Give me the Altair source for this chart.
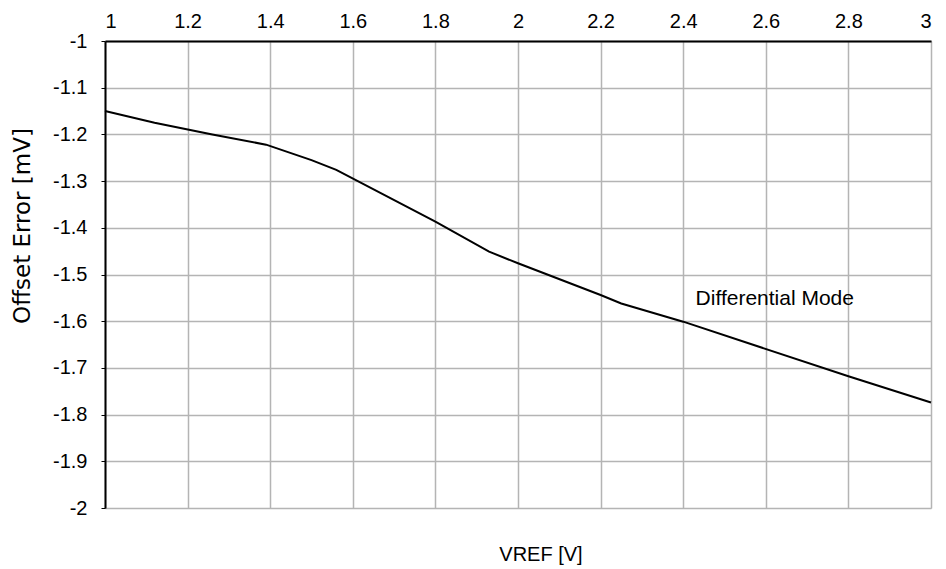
import altair as alt
import pandas as pd

vref = [1.0, 1.12, 1.26, 1.39, 1.5, 1.56, 1.8, 1.93, 2.0, 2.2, 2.25, 2.4, 2.8, 3.0]
offset = [-1.150, -1.175, -1.200, -1.222, -1.255, -1.276, -1.387, -1.451, -1.476,
          -1.544, -1.562, -1.601, -1.718, -1.774]
x_ticks = [1, 1.2, 1.4, 1.6, 1.8, 2, 2.2, 2.4, 2.6, 2.8, 3]
y_ticks = [-1, -1.1, -1.2, -1.3, -1.4, -1.5, -1.6, -1.7, -1.8, -1.9, -2]
annotation = "Differential Mode"
ann_x, ann_y = 2.43, -1.553
x_title = "VREF [V]"
y_title = "Offset Error [mV]"

df = pd.DataFrame({"vref": vref, "offset": offset})
FONT = "Liberation Sans, Arial"

W, H = 826, 467

xscale = alt.Scale(domain=[1, 3], nice=False, zero=False)
yscale = alt.Scale(domain=[-2, -1], nice=False, zero=False)

line = alt.Chart(df).mark_line(color="black", strokeWidth=2).encode(
    x=alt.X("vref:Q", scale=xscale,
            axis=alt.Axis(orient="top", values=x_ticks, title=None,
                          labelFont=FONT, labelFontSize=20, labelColor="black",
                          labelPadding=10, tickSize=0,
                          domainColor="black", domainWidth=2,
                          gridColor="#b4b4b4", gridWidth=1.5,
                          labelExpr="datum.value + ''")),
    y=alt.Y("offset:Q", scale=yscale,
            axis=alt.Axis(values=y_ticks, title=None,
                          labelFont=FONT, labelFontSize=20, labelColor="black",
                          labelPadding=14, tickSize=4, tickColor="black",
                          domainColor="black", domainWidth=2,
                          gridColor="#b4b4b4", gridWidth=1.5,
                          labelExpr="datum.value + ''")),
)

ann = alt.Chart(pd.DataFrame({"x": [ann_x], "y": [ann_y], "t": [annotation]})).mark_text(
    align="left", baseline="middle", font=FONT, fontSize=21, color="black"
).encode(x=alt.X("x:Q", scale=xscale), y=alt.Y("y:Q", scale=yscale), text="t:N")

xt = alt.Chart(pd.DataFrame({"t": [x_title]})).mark_text(
    align="center", baseline="middle", font=FONT, fontSize=20, color="black"
).encode(x=alt.value(436), y=alt.value(514), text="t:N")

yt = alt.Chart(pd.DataFrame({"t": [y_title]})).mark_text(
    align="center", baseline="middle", font="DejaVu Sans", fontSize=23, color="black",
    angle=270
).encode(x=alt.value(-82), y=alt.value(185), text="t:N")

chart = alt.layer(line, ann, xt, yt).properties(
    width=W, height=H,
    autosize=alt.AutoSizeParams(type="none"),
    padding={"left": 97, "top": 33, "right": 7, "bottom": 60},
).configure_view(stroke="#808080", strokeWidth=2).configure(background="white")

chart.save("out.html", embed_options={"renderer": "svg", "actions": False})
